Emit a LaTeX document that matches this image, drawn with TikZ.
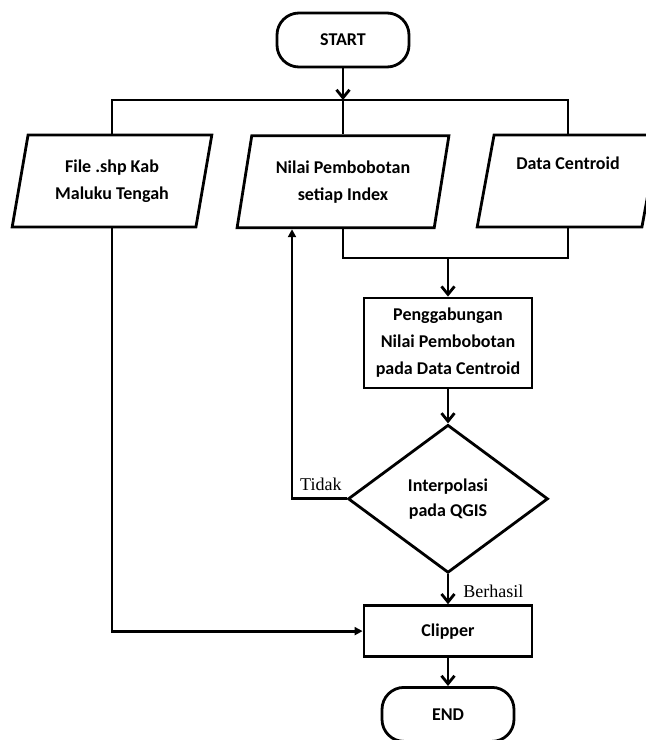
\documentclass[tikz,border=0pt]{standalone}
\usepackage{fontspec}
\setmainfont{Carlito}
\newfontfamily\serifnote{Liberation Serif}
\usetikzlibrary{shapes.geometric, arrows.meta, positioning}

\begin{document}
\begin{tikzpicture}[x=1pt, y=-1pt, line width=2.8pt,
  every node/.style={font=\bfseries\fontsize{18}{27}\selectfont},
  term/.style={draw, rounded corners=22pt, minimum width=132pt, minimum height=54pt},
  io/.style={draw, trapezium, trapezium stretches=true, trapezium left angle=77, trapezium right angle=103, minimum height=92pt, minimum width=212pt, align=center},
  proc/.style={draw, minimum width=168pt, align=center},
  dec/.style={draw, diamond, minimum width=200pt, minimum height=148pt, inner sep=0pt, align=center,
    font=\bfseries\fontsize{18}{25}\selectfont},
  arrow/.style={-{Straight Barb[length=8pt,width=13pt]}},
  tip/.style={-{Triangle[length=8pt,width=8pt]}},
  lbl/.style={font=\serifnote\fontsize{18}{20}\selectfont, inner sep=0pt}
]
\useasboundingbox (0,0) rectangle (646,740);

\node[term] (start) at (343,40) {START};
\node[io, below=66pt of start] (nilai) {Nilai Pembobotan\\setiap Index};
\node[io, minimum width=200pt] (file) at (112,181) {File .shp Kab\\Maluku Tengah};
\node[io, minimum width=182pt] (data) at (568,181) {Data Centroid\\\strut};
\node[proc, minimum height=90pt] (gabung) at (448,343) {Penggabungan\\Nilai Pembobotan\\pada Data Centroid};
\node[dec, below=34pt of gabung] (interp) {Interpolasi\\pada QGIS};
\node[proc, minimum height=51pt, below=30pt of interp] (clip) {Clipper};
\node[term, below=28pt of clip] (end) {END};

\coordinate (fork) at (343,100);
\coordinate (join) at (448,258);
\coordinate (back) at (292,0);

\draw[arrow] (start) -- (fork);
\draw (file.north) |- (fork) -| (data.north);
\draw (fork) -- (nilai.north);
\draw (nilai.south) |- (join) -| (data.south);
\draw[arrow] (join) -- (gabung);
\draw[arrow] (gabung) -- (interp);
\draw[arrow] (interp) -- (clip);
\draw[arrow] (clip) -- (end);
\draw[tip] (file.south) |- (clip.west);
\draw[tip] (interp.west) -- (interp.west -| back) -- (back |- nilai.south);

\node[lbl, anchor=base east] (tidak) at (343,490) {Tidak};
\node[lbl, anchor=base west] (berhasil) at (462,597) {Berhasil};
\end{tikzpicture}
\end{document}
